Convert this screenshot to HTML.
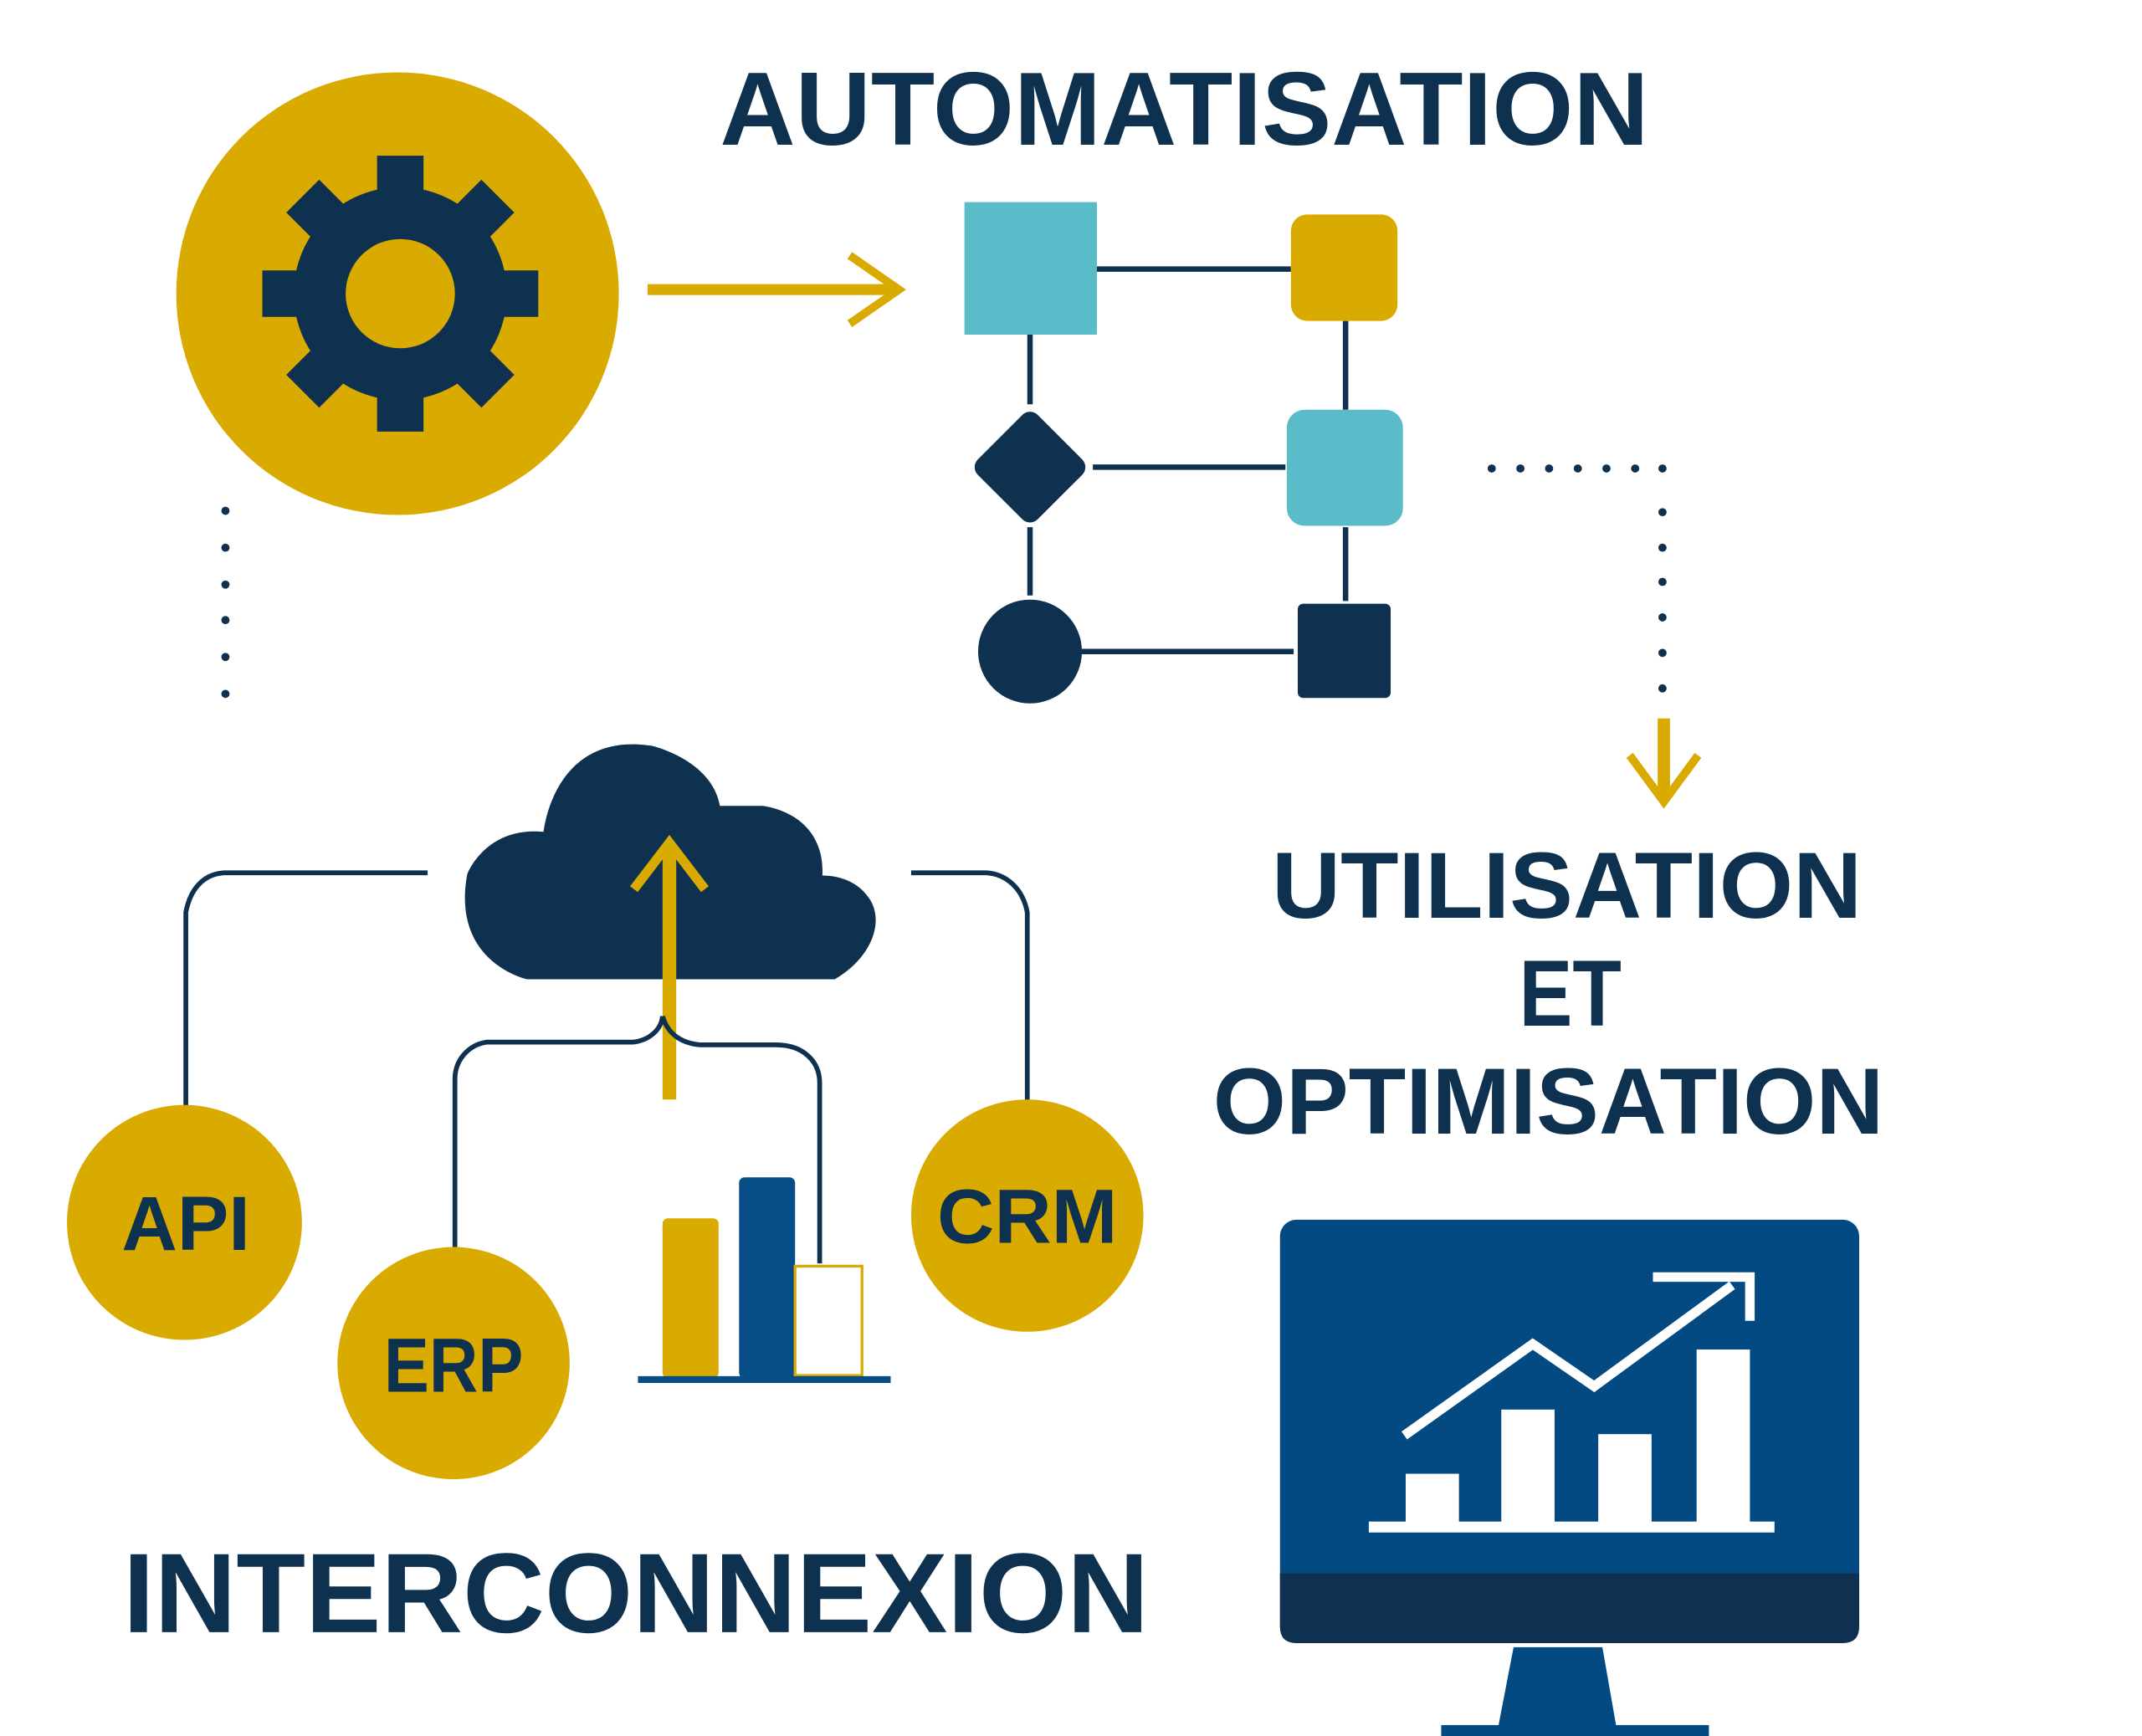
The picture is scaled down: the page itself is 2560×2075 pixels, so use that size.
<!DOCTYPE html>
<html><head><meta charset="utf-8"><style>html,body{margin:0;padding:0;background:#fff}svg{display:block}text{font-family:"Liberation Sans",sans-serif;font-weight:bold;fill:#0e3150}</style></head>
<body>
<svg width="2560" height="2075" viewBox="0 0 1568 1271" xmlns="http://www.w3.org/2000/svg">
<rect width="1568" height="1271" fill="#fff"/>
<!-- gear circle -->
<circle cx="291" cy="215" r="162" fill="#d9aa00"/>
<g transform="translate(293,215)" fill="#0e3150">
  <circle r="78"/>
  <g id="t"><rect x="-17" y="-101" width="34" height="40"/></g>
  <use href="#t" transform="rotate(45)"/><use href="#t" transform="rotate(90)"/><use href="#t" transform="rotate(135)"/>
  <use href="#t" transform="rotate(180)"/><use href="#t" transform="rotate(225)"/><use href="#t" transform="rotate(270)"/><use href="#t" transform="rotate(315)"/>
  <circle r="40" fill="#d9aa00"/>
</g>
<text x="527" y="106" font-size="76" textLength="680" lengthAdjust="spacingAndGlyphs">AUTOMATISATION</text>
<!-- gold arrow right -->
<line x1="474" y1="212" x2="658" y2="212" stroke="#d9aa00" stroke-width="8"/>
<polyline points="622,187 658,212 622,237" fill="none" stroke="#d9aa00" stroke-width="6"/>
<!-- flowchart -->
<g stroke="#0e3150" stroke-width="4">
<line x1="803" y1="197" x2="945" y2="197"/>
<line x1="754" y1="245" x2="754" y2="296"/>
<line x1="800" y1="342" x2="941" y2="342"/>
<line x1="985" y1="235" x2="985" y2="300"/>
<line x1="985" y1="386" x2="985" y2="440"/>
<line x1="754" y1="386" x2="754" y2="436"/>
<line x1="768" y1="477" x2="947" y2="477"/>
</g>
<rect x="706" y="148" width="97" height="97" fill="#5bbcc9"/>
<rect x="945" y="157" width="78" height="78" rx="12" fill="#d9aa00"/>
<rect x="723" y="311" width="62" height="62" rx="8" fill="#0e3150" transform="rotate(45 754 342)"/>
<rect x="942" y="300" width="85" height="85" rx="13" fill="#5bbcc9"/>
<circle cx="754" cy="477" r="38" fill="#0e3150"/>
<rect x="950" y="442" width="68" height="69" rx="4" fill="#0e3150"/>
<!-- dots -->
<g fill="#0e3150">
<circle cx="1092" cy="343" r="3"/><circle cx="1113" cy="343" r="3"/><circle cx="1134" cy="343" r="3"/><circle cx="1155" cy="343" r="3"/><circle cx="1176" cy="343" r="3"/><circle cx="1197" cy="343" r="3"/><circle cx="1217" cy="343" r="3"/>
<circle cx="1217" cy="375" r="3"/><circle cx="1217" cy="401" r="3"/><circle cx="1217" cy="426" r="3"/><circle cx="1217" cy="452" r="3"/><circle cx="1217" cy="478" r="3"/><circle cx="1217" cy="504" r="3"/>
<circle cx="165" cy="374" r="3"/><circle cx="165" cy="401" r="3"/><circle cx="165" cy="428" r="3"/><circle cx="165" cy="454" r="3"/><circle cx="165" cy="481" r="3"/><circle cx="165" cy="508" r="3"/>
</g>
<line x1="1218" y1="526" x2="1218" y2="586" stroke="#d9aa00" stroke-width="9"/>
<polyline points="1193,553 1218,587 1243,553" fill="none" stroke="#d9aa00" stroke-width="6"/>
<text x="931" y="672" font-size="69" textLength="432" lengthAdjust="spacingAndGlyphs">UTILISATION</text>
<text x="1112" y="751" font-size="69" textLength="75" lengthAdjust="spacingAndGlyphs">ET</text>
<text x="888" y="830" font-size="69" textLength="491" lengthAdjust="spacingAndGlyphs">OPTIMISATION</text>
<!-- cloud -->
<path d="M386,717 L611,717 C640,700 648,672 635,656 C626,644 612,641 602,641 C604,594 558,590 558,590 L527,590 C521,556 477,546 477,546 C405,535 398,609 398,609 C355,605 342,640 342,640 C330,705 386,717 386,717 Z" fill="#0e3150"/>
<line x1="490" y1="622" x2="490" y2="805" stroke="#d9aa00" stroke-width="10"/>
<polyline points="464,651 490,617 516,651" fill="none" stroke="#d9aa00" stroke-width="7"/>
<g fill="none" stroke="#0e3150" stroke-width="3.5">
<path d="M313,639 L164,639 C148,640 139,652 136,668 L136,810"/>
<path d="M667,639 L722,639 C738,640 749,652 752,668 L752,806"/>
<path d="M333,913 L333,790 C333,776 343,765 356,763 L463,763 C475,762 484,754 485,744"/>
<path d="M485,744 C489,758 500,764 513,765 L568,765 C588,765 600,777 600,793 L600,925"/>
</g>
<!-- circles -->
<circle cx="135" cy="895" r="86" fill="#d9aa00"/>
<circle cx="332" cy="998" r="85" fill="#d9aa00"/>
<circle cx="752" cy="890" r="85" fill="#d9aa00"/>
<text x="89" y="915" font-size="56" textLength="94" lengthAdjust="spacingAndGlyphs">API</text>
<text x="281" y="1019" font-size="56" textLength="102" lengthAdjust="spacingAndGlyphs">ERP</text>
<text x="686" y="910" font-size="56" textLength="132" lengthAdjust="spacingAndGlyphs">CRM</text>
<!-- bars -->
<rect x="485" y="892" width="41" height="117" rx="4" fill="#d9aa00"/>
<rect x="541" y="862" width="41" height="147" rx="4" fill="#064c86"/>
<rect x="582" y="927" width="49" height="80" fill="#fff" stroke="#d9aa00" stroke-width="2"/>
<line x1="467" y1="1010" x2="652" y2="1010" stroke="#064c86" stroke-width="5"/>
<text x="90" y="1195" font-size="83" textLength="751" lengthAdjust="spacingAndGlyphs">INTERCONNEXION</text>
<!-- monitor -->
<rect x="937" y="893" width="424" height="310" rx="12" fill="#044a82"/>
<path d="M937,1152 L1361,1152 L1361,1191 Q1361,1203 1349,1203 L949,1203 Q937,1203 937,1191 Z" fill="#0e3150"/>
<polygon points="1108,1206 1173,1206 1183,1263 1097,1263" fill="#044a82"/>
<rect x="1055" y="1263" width="196" height="8" fill="#044a82"/>
<g fill="#fff">
<rect x="1029" y="1079" width="39" height="37"/>
<rect x="1099" y="1032" width="39" height="84"/>
<rect x="1170" y="1050" width="39" height="66"/>
<rect x="1242" y="988" width="39" height="128"/>
<rect x="1002" y="1114" width="297" height="8"/>
</g>
<polyline points="1028,1051 1122,984 1167,1015 1268,941" fill="none" stroke="#fff" stroke-width="7"/>
<polyline points="1210,935 1281,935 1281,967" fill="none" stroke="#fff" stroke-width="7"/>
</svg>
</body></html>
